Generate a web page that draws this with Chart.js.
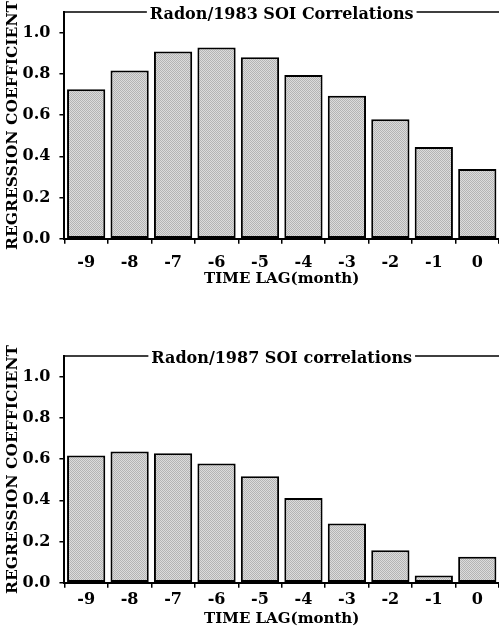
<!DOCTYPE html>
<html lang="en">
<head>
  <meta charset="UTF-8">
  <title>Radon / SOI Correlations</title>
  <script src="https://cdn.jsdelivr.net/npm/chart.js"></script>
  <style>
    body {
      margin: 0;
      background: #fff;
      width: 499px;
      height: 628px;
      position: relative;
      overflow: hidden;
    }
    .box {
      position: absolute;
      left: 0;
      width: 499px;
    }
  </style>
</head>
<body>
  <div class="box" style="top:0px;height:288px"><canvas id="chart1983" width="499" height="288"></canvas></div>
  <div class="box" style="top:344px;height:284px"><canvas id="chart1987" width="499" height="284"></canvas></div>

  <script>
    // time lags in months
    const lags = ['-9', '-8', '-7', '-6', '-5', '-4', '-3', '-2', '-1', '0'];
    // regression coefficients
    const coef1983 = [0.725, 0.816, 0.909, 0.928, 0.880, 0.794, 0.694, 0.580, 0.445, 0.338];
    const coef1987 = [0.618, 0.637, 0.628, 0.579, 0.517, 0.411, 0.288, 0.158, 0.035, 0.126];
    const title1983 = 'Radon/1983 SOI Correlations';
    const title1987 = 'Radon/1987 SOI correlations';
    const yMax = 1.1;
    const yStep = 0.1;

    const FONT = '"DejaVu Serif", serif';

    // stippled grey fill like the printed bars
    function stipple() {
      const c = document.createElement('canvas');
      c.width = 2; c.height = 2;
      const g = c.getContext('2d');
      g.fillStyle = '#dcdcdc'; g.fillRect(0, 0, 2, 2);
      g.fillStyle = '#b4b4b4'; g.fillRect(0, 0, 1, 1); g.fillRect(1, 1, 1, 1);
      return g.createPattern(c, 'repeat');
    }

    // top frame line broken by the title text
    const frameTitle = {
      id: 'frameTitle',
      afterDraw(chart, args, opts) {
        const ctx = chart.ctx;
        const area = chart.chartArea;
        ctx.save();
        ctx.font = 'bold 16px ' + FONT;
        const w = ctx.measureText(opts.text).width;
        const cx = (area.left + area.right) / 2;
        const x0 = cx - w / 2, x1 = cx + w / 2;
        ctx.strokeStyle = '#000';
        ctx.lineWidth = 1.5;
        ctx.beginPath();
        ctx.moveTo(area.left, area.top);
        ctx.lineTo(x0 - 3, area.top);
        ctx.moveTo(x1 + 3, area.top);
        ctx.lineTo(chart.width, area.top);
        ctx.stroke();
        ctx.fillStyle = '#000';
        ctx.textBaseline = 'middle';
        ctx.textAlign = 'left';
        ctx.fillText(opts.text, x0, area.top + 3);
        ctx.restore();
      }
    };

    function makeChart(id, values, title, tickPad, titlePad) {
      return new Chart(document.getElementById(id), {
        type: 'bar',
        data: {
          labels: lags,
          datasets: [{
            data: values,
            backgroundColor: stipple(),
            borderColor: '#000',
            borderWidth: 2,
            borderSkipped: false,
            barPercentage: 0.88,
            categoryPercentage: 1.0
          }]
        },
        options: {
          responsive: false,
          animation: false,
          layout: { padding: { top: 12, right: 0, left: 4, bottom: 0 } },
          plugins: {
            legend: { display: false },
            tooltip: { enabled: false },
            frameTitle: { text: title }
          },
          scales: {
            x: {
              grid: { drawOnChartArea: false, offset: true, tickLength: 5, color: '#000', lineWidth: 1.5 },
              border: { display: true, color: '#000', width: 2 },
              ticks: { color: '#000', font: { family: FONT, size: 16, weight: 'bold' }, padding: tickPad },
              title: {
                display: true,
                text: 'TIME LAG(month)',
                color: '#000',
                font: { family: FONT, size: 15, weight: 'bold' },
                padding: { top: titlePad, bottom: 0 }
              }
            },
            y: {
              min: 0,
              max: yMax,
              afterFit: function (s) { s.paddingTop = 0; s.paddingBottom = 0; },
              grid: { drawOnChartArea: false, tickLength: 5, color: '#000', lineWidth: 1.5 },
              border: { display: true, color: '#000', width: 2 },
              ticks: {
                stepSize: yStep,
                color: '#000',
                font: { family: FONT, size: 16, weight: 'bold' },
                padding: 9,
                callback: function (v) {
                  const k = Math.round(v * 10);
                  return (k % 2 === 0 && k <= 10) ? (k / 10).toFixed(1) : '';
                }
              },
              title: {
                display: true,
                text: 'REGRESSION COEFFICIENT',
                color: '#000',
                font: { family: FONT, size: 15.5, weight: 'bold' },
                padding: { top: 0, bottom: -9 }
              }
            }
          }
        },
        plugins: [frameTitle]
      });
    }

    makeChart('chart1983', coef1983, title1983, 9, -11);
    makeChart('chart1987', coef1987, title1987, 2, -1);
  </script>
</body>
</html>
